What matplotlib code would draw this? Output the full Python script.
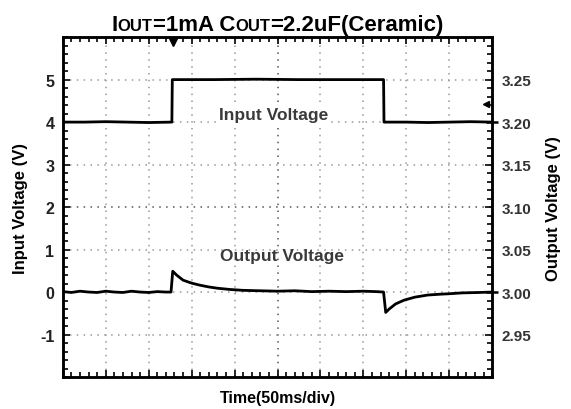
import matplotlib
matplotlib.use("Agg")
import matplotlib.pyplot as plt
from matplotlib.offsetbox import TextArea, HPacker, AnchoredOffsetbox
from matplotlib.ticker import MultipleLocator, FixedLocator, NullFormatter
import matplotlib.transforms as mtransforms

plt.rcParams['font.family'] = ['Liberation Sans', 'DejaVu Sans']

# ---- data (time in divisions, 50 ms/div) ----
t_in = [0, 0.5, 1.0, 1.5, 2.0, 2.54, 2.55, 3.5, 4.5, 5.5, 6.5, 7.47, 7.48, 8.0, 8.5, 9.0, 9.5, 10]
v_in = [4.0, 4.0, 4.01, 4.0, 3.99, 4.0, 5.0, 5.0, 5.01, 5.0, 5.0, 5.0, 4.0, 4.0, 3.99, 4.0, 4.01, 4.0]

t_out = [0, 0.2, 0.4, 0.6, 0.8, 1.0, 1.2, 1.4, 1.6, 1.8, 2.0, 2.2, 2.4, 2.52,
         2.56, 2.65, 2.8, 3.0, 3.2, 3.4, 3.6, 3.9, 4.2, 4.6, 5.0, 5.4, 5.8,
         6.2, 6.6, 7.0, 7.3, 7.47, 7.52, 7.6, 7.75, 7.95, 8.2, 8.5, 8.8,
         9.0, 9.3, 9.7, 10]
v_out = [3.0005, 2.9995, 3.001, 3.0, 2.9995, 3.001, 3.0, 2.9995, 3.001, 3.0, 2.9995, 3.0005, 3.0, 3.0,
         3.0245, 3.020, 3.014, 3.0105, 3.008, 3.006, 3.0045, 3.003, 3.002, 3.0015, 3.001, 3.0015, 3.0005,
         3.001, 3.0005, 3.001, 3.0005, 3.0, 2.976, 2.980, 2.986, 2.9905, 2.994, 2.9965, 2.9975,
         2.998, 2.999, 2.9995, 3.0]

left_ticks = [-1, 0, 1, 2, 3, 4, 5]
left_labels = ["-1", "0", "1", "2", "3", "4", "5"]
right_ticks = [2.95, 3.00, 3.05, 3.10, 3.15, 3.20, 3.25]
right_labels = ["2.95", "3.00", "3.05", "3.10", "3.15", "3.20", "3.25"]

fig = plt.figure(figsize=(5.71, 4.10), dpi=100)
ax = fig.add_axes([0.110, 0.078, 0.752, 0.829])
ax.set_xlim(0, 10)
ax.set_ylim(-2, 6)

# grid (oscilloscope style)
for xv in range(1, 10):
    c = '#555555' if xv == 5 else '#999999'
    ax.axvline(xv, color=c, lw=1.1, ls=(0, (1, 3.5)), zorder=1)
for yv in range(-1, 6):
    c = '#555555' if yv == 2 else '#999999'
    ax.axhline(yv, color=c, lw=1.1, ls=(0, (1, 3.5)), zorder=1)

ax.plot(t_in, v_in, color='black', lw=2.0, zorder=3)

ax2 = ax.twinx()
ax2.set_ylim(2.9, 3.3)
ax2.plot(t_out, v_out, color='black', lw=2.0, zorder=3)

# ticks
ax.xaxis.set_major_locator(MultipleLocator(1))
ax.xaxis.set_minor_locator(MultipleLocator(0.2))
ax.xaxis.set_major_formatter(NullFormatter())
ax.yaxis.set_major_locator(FixedLocator(left_ticks))
ax.yaxis.set_minor_locator(MultipleLocator(0.2))
ax.set_yticklabels(left_labels)
ax.tick_params(which='both', direction='in', top=True, right=True, bottom=True, left=True,
               width=1.2, color='black')
ax.tick_params(which='major', length=5)
ax.tick_params(which='minor', length=3.5)
ax.tick_params(axis='y', which='major', labelsize=11.5, pad=6)
for lab in ax.get_yticklabels():
    lab.set_fontweight('bold')
    lab.set_color('#222222')

ax2.set_yticks(right_ticks)
ax2.set_yticklabels(right_labels)
ax2.tick_params(axis='y', length=0, labelsize=11, pad=7)
for lab in ax2.get_yticklabels():
    lab.set_fontweight('bold')
    lab.set_color('#333333')

for a in (ax, ax2):
    for s in a.spines.values():
        s.set_linewidth(1.8)
        s.set_color('black')

ax.set_ylabel('Input Voltage (V)', fontsize=12, fontweight='bold', labelpad=9)
ax2.set_ylabel('Output Voltage (V)', fontsize=12, fontweight='bold', labelpad=10, rotation=90)
ax.set_xlabel('Time(50ms/div)', fontsize=11.5, fontweight='bold', labelpad=6)

ax.text(4.9, 4.19, 'Input Voltage', fontsize=12.5, color='#3a3a3a', ha='center', va='center',
        zorder=4, fontweight='bold', bbox=dict(facecolor='white', edgecolor='none', pad=1))
ax.text(5.1, 0.85, 'Output Voltage', fontsize=12.5, color='#3a3a3a', ha='center', va='center',
        zorder=4, fontweight='bold')

# markers: trigger arrow and level markers
trans = mtransforms.blended_transform_factory(ax.transData, ax.transAxes)
ax.plot([2.57], [0.985], marker='v', color='black', ms=6, transform=trans, clip_on=False, zorder=5)
ax.plot([9.85], [4.42], marker='<', color='black', ms=5, clip_on=False, zorder=5)
ax.plot([10, 10], [4, 0], marker='_', color='black', ms=9, mew=1.8, ls='none', clip_on=False, zorder=5)

# title with small caps style
big = dict(size=16, weight='bold', color='black')
small = dict(size=12, weight='bold', color='black')
parts = [TextArea('I', textprops=big), TextArea('OUT', textprops=small),
         TextArea('=1mA C', textprops=big), TextArea('OUT', textprops=small),
         TextArea('=2.2uF(Ceramic)', textprops=big)]
pack = HPacker(children=parts, align='baseline', pad=0, sep=0)
anch = AnchoredOffsetbox(loc='lower center', child=pack, frameon=False,
                         bbox_to_anchor=(0.5, 1.005), bbox_transform=ax.transAxes,
                         borderpad=0, pad=0)
ax.add_artist(anch)

fig.savefig('out.png', dpi=100)
